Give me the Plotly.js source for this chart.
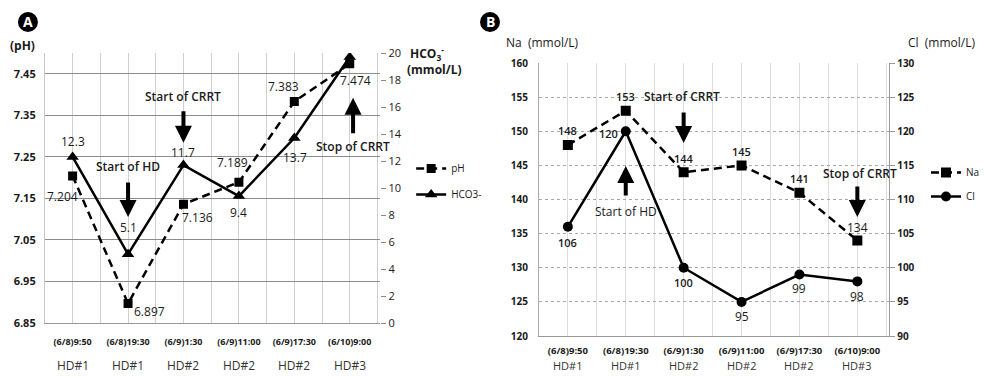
<!DOCTYPE html>
<html><head><meta charset="utf-8">
<script src="https://cdn.plot.ly/plotly-3.0.1.min.js"></script>
<style>html,body{margin:0;padding:0;background:#fff}#chart{width:985px;height:377px}</style>
</head><body><div id="chart"></div>
<script>
// ---- data ----
const timeLabels = ['(6/8)9:50','(6/8)19:30','(6/9)1:30','(6/9)11:00','(6/9)17:30','(6/10)9:00'];
const phaseLabels = ['HD#1','HD#1','HD#2','HD#2','HD#2','HD#3'];
const phValues = [7.204, 6.897, 7.136, 7.189, 7.383, 7.474];
const hco3Values = [12.3, 5.1, 11.7, 9.4, 13.7, 19.7];
const naValues = [148, 153, 144, 145, 141, 134];
const clValues = [106, 120, 100, 95, 99, 98];
const phTicks = [6.85, 6.95, 7.05, 7.15, 7.25, 7.35, 7.45];
const hco3Ticks = [0,2,4,6,8,10,12,14,16,18,20];
const naTicks = [120,125,130,135,140,145,150,155,160];
const clTicks = [90,95,100,105,110,115,120,125,130];

const idx = timeLabels.map((_, i) => i);
const W = 985, H = 377;
const px = x => x / W, py = y => 1 - y / H;
const FONT = 'Open Sans, Noto Sans, sans-serif';
const INK = '#1a1a1a';

const traces = [
  {x: idx, y: phValues, name: 'pH', xaxis: 'x', yaxis: 'y', mode: 'lines+markers',
   line: {color: '#000', width: 2.5, dash: '8px,5px'}, marker: {symbol: 'square', size: 9, color: '#000'},
   legend: 'legend', legendgroup: 'a1'},
  {x: idx, y: hco3Values, name: 'HCO3-', xaxis: 'x', yaxis: 'y2', mode: 'lines+markers',
   line: {color: '#000', width: 2.5}, marker: {symbol: 'triangle-up', size: 11, color: '#000'},
   legend: 'legend', legendgroup: 'a2'},
  {x: idx, y: naValues, name: 'Na', xaxis: 'x2', yaxis: 'y3', mode: 'lines+markers',
   line: {color: '#000', width: 2.5, dash: '8px,5px'}, marker: {symbol: 'square', size: 10, color: '#000'},
   legend: 'legend2', legendgroup: 'b1'},
  {x: idx, y: clValues, name: 'Cl', xaxis: 'x2', yaxis: 'y4', mode: 'lines+markers',
   line: {color: '#000', width: 2.5}, marker: {symbol: 'circle', size: 10, color: '#000'},
   legend: 'legend2', legendgroup: 'b2'}
];

const ann = [];
function txt(xref, yref, x, y, text, o = {}) {
  ann.push(Object.assign({xref, yref, x, y, text, showarrow: false,
    font: {family: FONT, size: 12, color: INK}, xanchor: 'center', yanchor: 'middle'}, o));
}
function arrow(xref, yref, x, y, ay) {
  ann.push({xref, yref, x, y, ax: 0, ay, text: '', showarrow: true, arrowhead: 2,
    arrowsize: 0.85, arrowwidth: 4, arrowcolor: '#000', standoff: 0});
}
const fmt3 = v => v.toFixed(3);
const fmt1 = v => v.toFixed(1);
const semi = {family:FONT,size:12,color:INK,weight:600};
const semi11 = {family:FONT,size:11,color:INK,weight:600};

// Panel A labels (yref = pH axis)
txt('x','y', 0, 7.286, fmt1(hco3Values[0]));
txt('x','y', -0.19, 7.154, fmt3(phValues[0]));
txt('x','y', 1, 7.226, 'Start of HD', {font: semi});
arrow('x','y', 1, 7.105, -36);
txt('x','y', 1, 7.081, fmt1(hco3Values[1]));
txt('x','y', 1.38, 6.877, fmt3(phValues[1]));
txt('x','y', 2, 7.395, 'Start of CRRT', {font: semi});
arrow('x','y', 2, 7.284, -33);
txt('x','y', 2, 7.26, fmt1(hco3Values[2]));
txt('x','y', 2.26, 7.105, fmt3(phValues[2]));
txt('x','y', 3, 7.117, fmt1(hco3Values[3]));
txt('x','y', 2.89, 7.236, fmt3(phValues[3]));
txt('x','y', 3.81, 7.419, fmt3(phValues[4]));
txt('x','y', 4.01, 7.248, fmt1(hco3Values[4]));
txt('x','y', 4.97, 7.52, fmt1(hco3Values[5]));
txt('x','y', 5.11, 7.433, fmt3(phValues[5]));
arrow('x','y', 5.06, 7.392, 37);
txt('x','y', 5.06, 7.276, 'Stop of CRRT', {font: semi});

// Panel B labels (yref = Na axis)
txt('x2','y3', 0, 150.04, String(naValues[0]), {font: semi11});
txt('x2','y3', 1, 155.02, String(naValues[1]), {font: semi11});
txt('x2','y3', 0.71, 149.6, String(clValues[1]), {font: semi11});
txt('x2','y3', 1.98, 155.02, 'Start of CRRT', {font: semi});
arrow('x2','y3', 2, 148.28, -32);
txt('x2','y3', 2, 146.08, String(naValues[2]), {font: semi11});
txt('x2','y3', 3, 147.1, String(naValues[3]), {font: semi11});
arrow('x2','y3', 1, 144.9, 31);
txt('x2','y3', 1, 138.17, 'Start of HD', {font:{family:FONT,size:12,color:INK}});
txt('x2','y3', 0, 133.77, String(clValues[0]), {font: semi11});
txt('x2','y3', 2, 127.9, String(clValues[2]), {font: semi11});
txt('x2','y3', 3, 122.93, String(clValues[3]), {font:{family:FONT,size:12,color:INK}});
txt('x2','y3', 4, 143.15, String(naValues[4]), {font: semi11});
txt('x2','y3', 5.04, 143.74, 'Stop of CRRT', {font: semi});
arrow('x2','y3', 5, 137.44, -32);
txt('x2','y3', 5, 135.97, String(naValues[5]), {font:{family:FONT,size:12,color:INK}});
txt('x2','y3', 4, 127.03, String(clValues[4]), {font:{family:FONT,size:12,color:INK}});
txt('x2','y3', 5, 125.86, String(clValues[5]), {font:{family:FONT,size:12,color:INK}});

// phase labels under the time ticks
idx.forEach(i => {
  txt('x','paper', i, py(365), phaseLabels[i], {font:{family:FONT,size:12,color:'#333'}});
  txt('x2','paper', i, py(365), phaseLabels[i], {font:{family:FONT,size:11,color:'#333'}});
});

// axis titles
txt('paper','paper', px(23), py(45), '(pH)', {font:{family:FONT,size:12,color:INK,weight:700}});
txt('paper','paper', px(409), py(53), 'HCO<sub>3</sub><sup>-</sup>', {xanchor:'left', font:{family:FONT,size:12,color:INK,weight:700}});
txt('paper','paper', px(406), py(69), '(mmol/L)', {xanchor:'left', font:{family:FONT,size:12,color:INK,weight:700}});
txt('paper','paper', px(505), py(43), 'Na  (mmol/L)', {xanchor:'left', font:{family:FONT,size:12,color:INK}});
txt('paper','paper', px(908), py(43), 'Cl  (mmol/L)', {xanchor:'left', font:{family:FONT,size:12,color:INK}});
// panel letters
txt('paper','paper', px(28), py(22), 'A', {font:{family:FONT,size:14,color:'#fff',weight:700}});
txt('paper','paper', px(491), py(22), 'B', {font:{family:FONT,size:14,color:'#fff',weight:700}});

const shapes = [
  {type:'circle', xref:'paper', yref:'paper', x0:px(18), x1:px(38), y0:py(32), y1:py(12), fillcolor:'#000', line:{width:0}},
  {type:'circle', xref:'paper', yref:'paper', x0:px(481), x1:px(501), y0:py(32), y1:py(12), fillcolor:'#000', line:{width:0}}
];

const XR = [-0.5, 5.55];
const minorVals = [0.5,1.5,2.5,3.5,4.5,5.5];
const tickFontA = {family: FONT, size: 9, color: INK, weight: 700};

const layout = {
  width: W, height: H, margin: {l:0, r:0, t:0, b:0}, paper_bgcolor:'#fff', plot_bgcolor:'#fff',
  font: {family: FONT, color: INK},
  showlegend: true,
  xaxis: {domain: [px(45), px(381)], range: XR, tickmode:'array', tickvals: idx, ticktext: timeLabels,
    tickfont: tickFontA, showgrid: true, gridcolor:'#cfcfcf', zeroline:false, showline:true, linecolor:'#999',
    ticks:'', ticklabelstandoff: 10,
    minor: {tickmode:'array', tickvals: minorVals, showgrid:true, gridcolor:'#cfcfcf', ticks:''}},
  yaxis: {domain: [py(323), py(53)], range: [6.85, 7.5], tickmode:'array', tickvals: phTicks,
    ticktext: phTicks.map(v => v.toFixed(2)), tickfont: {family: FONT, size: 11, color: INK, weight: 700},
    showgrid:true, gridcolor:'#8c8c8c', zeroline:false, showline:true, linecolor:'#c8c8c8', ticks:'', ticklabelstandoff: 6},
  yaxis2: {domain: [py(323), py(53)], range: [0, 20], overlaying:'y', side:'right', anchor:'x',
    tickmode:'array', tickvals: hco3Ticks, tickfont: {family: FONT, size: 11, color: INK},
    showgrid:false, zeroline:false, showline:false, ticks:'outside', ticklen:5, tickcolor:'#888'},
  xaxis2: {domain: [px(540), px(891)], range: XR, tickmode:'array', tickvals: idx, ticktext: timeLabels,
    tickfont: {family: FONT, size: 9.5, color: INK, weight: 700}, showgrid:true, gridcolor:'#dcdcdc',
    zeroline:false, showline:true, linecolor:'#999', ticks:'', ticklabelstandoff: 6, anchor:'y3',
    minor: {tickmode:'array', tickvals: minorVals, showgrid:true, gridcolor:'#dcdcdc', ticks:''}},
  yaxis3: {domain: [py(336), py(63)], range: [120, 160], anchor:'x2', tickmode:'array', tickvals: naTicks,
    tickfont: {family: FONT, size: 10, color: INK, weight: 700}, showgrid:true, gridcolor:'#a8a8a8', griddash:'dot',
    zeroline:false, showline:true, linecolor:'#aaa', ticks:'', ticklabelstandoff: 8},
  yaxis4: {domain: [py(336), py(63)], range: [90, 130], overlaying:'y3', side:'right', anchor:'x2',
    tickmode:'array', tickvals: clTicks, tickfont: {family: FONT, size: 10, color: INK, weight: 700},
    showgrid:false, zeroline:false, showline:true, linecolor:'#999', ticks:'outside', ticklen:5, tickcolor:'#999'},
  legend: {x: px(412), y: py(154), xanchor:'left', yanchor:'top', font:{family:FONT, size:10, color:INK},
    bgcolor:'rgba(0,0,0,0)', itemwidth: 30, tracegroupgap: 7, traceorder:'grouped'},
  legend2: {x: px(928), y: py(158), xanchor:'left', yanchor:'top', font:{family:FONT, size:10, color:INK},
    bgcolor:'rgba(0,0,0,0)', itemwidth: 30, tracegroupgap: 5, traceorder:'grouped'},
  annotations: ann,
  shapes: shapes
};

Plotly.newPlot('chart', traces, layout, {staticPlot: true, displayModeBar: false});
</script>
</body></html>
